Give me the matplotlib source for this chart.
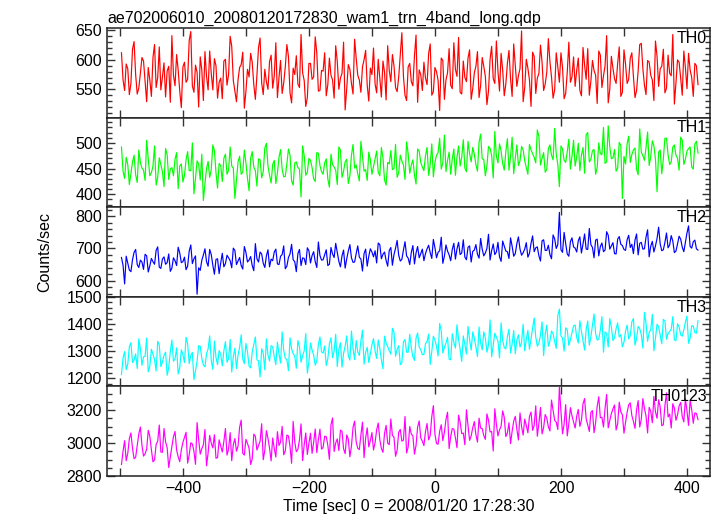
import numpy as np
import matplotlib
matplotlib.use("Agg")
import matplotlib.pyplot as plt
from matplotlib.ticker import MultipleLocator

plt.rcParams['font.family'] = ['Liberation Sans', 'DejaVu Sans']

# light curve: bins at -498 + 5*i, plus the half-way bins at -495.5 + 5*i
t_start = -498
t_bin = 5

th0 = [612, 548, 585, 560, 631, 542, 577, 598, 529, 566, 604, 553, 622, 571, 537, 589,
       641, 556, 583, 519, 596, 567, 648, 545, 579, 605, 531, 572, 615, 549, 590, 562,
       534, 601, 575, 623, 547, 566, 592, 518, 584, 611, 558, 574, 637, 541, 563, 597,
       552, 629, 570, 543, 588, 606, 527, 575, 559, 643, 565, 536, 594, 571, 612, 548,
       581, 539, 603, 566, 624, 550, 577, 515, 592, 560, 635, 574, 545, 600, 557, 586,
       620, 544, 569, 598, 532, 582, 609, 553, 571, 646, 540, 588, 563, 607, 528, 575,
       596, 558, 627, 546, 580, 514, 599, 566, 619, 551, 584, 638, 542, 570, 603, 533,
       578, 614, 556, 589, 524, 601, 568, 632, 547, 583, 559, 616, 538, 592, 573, 649,
       553, 586, 521, 606, 569, 625, 548, 579, 597, 535, 612, 562, 587, 543, 630, 571,
       555, 603, 539, 591, 619, 564, 582, 526, 608, 573, 641, 550, 586, 560, 622, 545,
       593, 567, 612, 536, 581, 628, 557, 599, 574, 531, 606, 585, 618, 552, 577, 643,
       561, 596, 540, 587, 611, 570, 594, 558]
th0_mid = [566, 593, 541, 618, 575, 552, 604, 563, 587, 538, 626, 570, 549, 595, 581, 528,
           574, 609, 547, 588, 562, 633, 556, 591, 520, 583, 614, 549, 577, 602, 535, 569,
           598, 557, 640, 565, 529, 587, 613, 546, 571, 596, 533, 621, 561, 584, 550, 608,
           573, 536, 599, 561, 626, 544, 586, 607, 553, 578, 521, 594, 567, 639, 547, 582,
           612, 558, 574, 535, 597, 569, 630, 551, 584, 542, 603, 566, 588, 616, 530, 575,
           559, 601, 537, 579, 624, 563, 590, 546, 608, 572, 531, 594, 556, 642, 583, 548,
           569, 611, 540, 587, 565, 603, 533, 578, 557, 629, 572, 545, 598, 563, 617, 551,
           589, 536, 604, 572, 547, 623, 560, 581, 611, 539, 594, 568, 627, 555, 585, 529,
           601, 566, 613, 543, 577, 596, 559, 636, 571, 549, 588, 612, 534, 579, 562, 605,
           582, 548, 621, 567, 540, 599, 574, 615, 553, 590, 527, 606, 568, 594, 538, 617,
           560, 603, 572, 548, 626, 585, 541, 596, 566, 632, 555, 589, 544, 608, 573, 525,
           600, 569, 615, 551, 583, 538, 590]

th1 = [492, 431, 458, 440, 476, 423, 462, 447, 505, 436, 455, 418, 471, 444, 489, 429,
       452, 468, 411, 459, 437, 483, 446, 401, 465, 428, 388, 450, 433, 496, 442, 460,
       425, 478, 447, 455, 392, 463, 439, 486, 431, 470, 453, 416, 467, 444, 499, 437,
       458, 421, 472, 449, 435, 488, 426, 461, 452, 395, 475, 443, 466, 430, 481, 456,
       439, 469, 414, 458, 447, 492, 433, 463, 421, 476, 451, 440, 503, 445, 427, 467,
       454, 484, 436, 471, 418, 459, 448, 497, 442, 465, 429, 479, 457, 438, 488, 462,
       446, 491, 458, 434, 476, 509, 461, 444, 482, 469, 437, 494, 472, 451, 503, 463,
       478, 445, 517, 468, 455, 489, 432, 474, 498, 460, 483, 447, 511, 470, 456, 493,
       465, 439, 486, 472, 525, 457, 481, 449, 496, 467, 478, 415, 488, 462, 507, 474,
       455, 499, 476, 441, 520, 468, 487, 452, 479, 530, 463, 492, 471, 445, 501, 392,
       459, 513, 477, 490, 438, 482, 466, 521, 473, 494, 405, 486, 469, 509, 458, 492,
       476, 447, 505, 468, 489, 453, 498, 480]
th1_mid = [445, 472, 419, 463, 438, 486, 451, 427, 469, 442, 494, 433, 458, 415, 477, 449,
           436, 481, 455, 424, 467, 446, 500, 431, 459, 478, 421, 464, 448, 485, 412, 456,
           470, 439, 492, 451, 428, 474, 443, 461, 407, 483, 446, 469, 432, 490, 455, 422,
           466, 441, 487, 434, 459, 476, 418, 463, 449, 494, 437, 470, 452, 425, 480, 444,
           461, 430, 478, 453, 419, 486, 445, 468, 436, 497, 457, 426, 473, 448, 482, 439,
           470, 443, 491, 428, 462, 485, 450, 433, 476, 457, 502, 441, 467, 420, 484, 453,
           475, 437, 498, 462, 481, 449, 515, 466, 439, 488, 472, 455, 506, 444, 479, 491,
           458, 501, 469, 436, 493, 476, 522, 461, 484, 447, 508, 473, 440, 496, 465, 486,
           452, 497, 479, 461, 512, 470, 443, 489, 476, 528, 458, 494, 466, 483, 449, 505,
           472, 446, 491, 516, 463, 485, 439, 500, 477, 460, 533, 469, 487, 451, 495, 474,
           498, 462, 486, 449, 527, 475, 491, 456, 504, 468, 482, 440, 509, 477, 463, 496,
           470, 511, 458, 484, 492, 449, 503]

th2 = [672, 590, 655, 628, 688, 650, 664, 635, 677, 646, 659, 694, 642, 667, 651, 683,
       639, 662, 704, 656, 673, 645, 711, 668, 558, 632, 680, 659, 697, 648, 666, 622,
       685, 653, 671, 640, 694, 661, 647, 706, 658, 675, 631, 668, 689, 654, 677, 643,
       662, 698, 650, 681, 637, 672, 713, 659, 684, 647, 669, 702, 655, 690, 641, 678,
       665, 696, 651, 683, 716, 660, 677, 639, 692, 671, 658, 708, 667, 684, 645, 699,
       674, 655, 712, 682, 663, 694, 648, 701, 679, 666, 721, 670, 688, 652, 706, 684,
       662, 699, 687, 728, 671, 693, 654, 711, 680, 697, 667, 719, 686, 673, 704, 658,
       695, 682, 731, 677, 700, 664, 714, 689, 674, 723, 692, 669, 707, 684, 736, 679,
       698, 673, 716, 690, 705, 661, 727, 694, 681, 742, 700, 812, 688, 715, 676, 733,
       701, 724, 686, 745, 697, 712, 671, 729, 706, 690, 752, 698, 718, 683, 737, 709,
       694, 741, 713, 726, 680, 719, 699, 758, 707, 689, 731, 714, 696, 748, 711, 723,
       692, 738, 704, 719, 770, 701, 726, 695]
th2_mid = [648, 676, 633, 665, 697, 641, 658, 682, 627, 669, 651, 705, 638, 674, 656, 629,
           671, 647, 686, 659, 634, 692, 653, 677, 640, 663, 699, 645, 681, 620, 668, 655,
           643, 679, 662, 701, 650, 672, 636, 688, 664, 647, 715, 658, 683, 641, 696, 667,
           689, 652, 676, 708, 645, 683, 665, 628, 697, 671, 650, 693, 678, 659, 720, 664,
           681, 647, 703, 672, 688, 643, 695, 668, 712, 657, 684, 673, 630, 698, 676, 689,
           693, 717, 668, 689, 645, 703, 681, 725, 661, 695, 677, 650, 709, 686, 671, 698,
           684, 710, 669, 702, 688, 735, 676, 692, 662, 716, 699, 681, 727, 665, 708, 691,
           712, 670, 698, 686, 744, 693, 681, 719, 660, 707, 690, 733, 676, 715, 698, 687,
           718, 685, 739, 702, 677, 724, 694, 710, 668, 730, 712, 696, 750, 683, 721, 705,
           689, 736, 714, 698, 762, 703, 726, 677, 717, 695, 741, 708, 684, 729, 713, 697,
           727, 703, 684, 745, 716, 698, 735, 674, 722, 708, 766, 693, 719, 702, 740, 687,
           714, 729, 690, 748, 706, 721, 699]

th3 = [1214, 1298, 1252, 1331, 1267, 1236, 1309, 1279, 1348, 1245, 1288, 1227, 1322, 1260, 1296, 1239,
       1341, 1271, 1216, 1305, 1258, 1327, 1284, 1195, 1262, 1318, 1249, 1291, 1356, 1233, 1277, 1302,
       1246, 1335, 1272, 1223, 1311, 1285, 1360, 1254, 1297, 1238, 1324, 1268, 1205, 1292, 1345, 1263,
       1316, 1250, 1289, 1371, 1274, 1228, 1308, 1282, 1339, 1259, 1301, 1219, 1330, 1286, 1264, 1352,
       1293, 1247, 1327, 1276, 1362, 1306, 1241, 1318, 1283, 1374, 1269, 1297, 1338, 1252, 1314, 1290,
       1346, 1273, 1310, 1235, 1329, 1301, 1384, 1281, 1320, 1257, 1343, 1296, 1312, 1266, 1367, 1305,
       1288, 1336, 1251, 1355, 1318, 1402, 1293, 1329, 1270, 1364, 1311, 1343, 1262, 1325, 1391, 1304,
       1347, 1280, 1330, 1371, 1296, 1415, 1322, 1352, 1275, 1339, 1308, 1381, 1326, 1290, 1360, 1333,
       1301, 1377, 1344, 1422, 1318, 1359, 1283, 1396, 1337, 1364, 1310, 1455, 1348, 1386, 1321, 1368,
       1396, 1330, 1372, 1304, 1411, 1353, 1437, 1341, 1378, 1296, 1365, 1420, 1339, 1383, 1352, 1316,
       1374, 1345, 1408, 1322, 1391, 1361, 1443, 1336, 1379, 1301, 1399, 1358, 1417, 1344, 1372, 1427,
       1338, 1389, 1355, 1407, 1329, 1394, 1368, 1412]
th3_mid = [1275, 1232, 1316, 1258, 1290, 1345, 1248, 1281, 1224, 1307, 1269, 1336, 1243, 1285, 1211, 1299,
           1263, 1312, 1239, 1287, 1351, 1254, 1295, 1228, 1320, 1273, 1242, 1308, 1266, 1337, 1250, 1289,
           1301, 1259, 1343, 1280, 1236, 1314, 1271, 1328, 1245, 1296, 1352, 1264, 1309, 1231, 1286, 1320,
           1278, 1333, 1256, 1302, 1268, 1349, 1291, 1237, 1316, 1283, 1365, 1261, 1304, 1248, 1325, 1297,
           1319, 1272, 1349, 1300, 1243, 1331, 1292, 1356, 1267, 1310, 1339, 1284, 1377, 1295, 1258, 1323,
           1300, 1341, 1268, 1355, 1317, 1289, 1370, 1307, 1250, 1334, 1296, 1362, 1279, 1348, 1315, 1287,
           1327, 1363, 1299, 1340, 1282, 1374, 1314, 1351, 1268, 1332, 1397, 1306, 1356, 1289, 1342, 1371,
           1316, 1389, 1305, 1348, 1323, 1279, 1366, 1337, 1404, 1313, 1354, 1293, 1376, 1341, 1315, 1399,
           1344, 1307, 1385, 1352, 1329, 1408, 1363, 1318, 1374, 1335, 1431, 1356, 1300, 1379, 1342, 1393,
           1351, 1412, 1337, 1380, 1322, 1396, 1365, 1344, 1427, 1371, 1315, 1388, 1349, 1404, 1361, 1333,
           1396, 1357, 1420, 1346, 1383, 1311, 1402, 1369, 1435, 1348, 1390, 1327, 1411, 1365, 1381, 1342,
           1401, 1360, 1378, 1429, 1347, 1392, 1366]

th0123 = [2870, 3015, 2938, 3062, 2905, 2987, 3098, 2921, 2964, 3041, 2886, 2992, 3110, 2944, 3008, 2852,
          2979, 3071, 2917, 2960, 3034, 2878, 3002, 2951, 3125, 2933, 2990, 2862, 3047, 2971, 2908, 3020,
          2946, 3089, 2965, 2893, 3028, 2982, 3140, 2927, 2998, 2870, 3055, 2958, 3012, 2899, 3076, 2969,
          3031, 2915, 2986, 3102, 2953, 3044, 2877, 3008, 2962, 3117, 2990, 2931, 3060, 3005, 2942, 3085,
          2974, 3039, 2901, 3153, 3001, 2955, 3072, 2936, 3025, 2981, 3134, 2968, 3049, 2912, 3093, 3016,
          2958, 3081, 3022, 2944, 3108, 2991, 3047, 2920, 3066, 3012, 3162, 2976, 3055, 2933, 3098, 3031,
          2985, 3119, 3047, 3228, 2998, 3073, 3015, 3144, 2967, 3089, 3032, 3170, 3058, 2990, 3106, 3044,
          3131, 3006, 3092, 3046, 3178, 3068, 2952, 3115, 3081, 3196, 3040, 3124, 3072, 3163, 3019, 3101,
          3146, 3063, 3189, 3108, 3042, 3217, 3095, 3152, 3074, 3200, 3128, 3340, 3057, 3234, 3119, 3166,
          3092, 3205, 3140, 3271, 3111, 3187, 3063, 3224, 3155, 3098, 3296, 3138, 3208, 3080, 3249, 3172,
          3126, 3233, 3168, 3090, 3259, 3145, 3211, 3062, 3193, 3284, 3151, 3219, 3112, 3306, 3177, 3240,
          3139, 3226, 3161, 3270, 3108, 3203, 3184, 3143]
th0123_mid = [2951, 2893, 3027, 2969, 2914, 3056, 2987, 2935, 3078, 2960, 2898, 3012, 2946, 3089, 2973, 2917,
              3039, 2958, 2887, 3004, 3066, 2929, 2995, 2871, 3021, 2966, 3083, 2940, 2999, 3051, 2912, 2983,
              3010, 2927, 3064, 2990, 2951, 3097, 2938, 3023, 2969, 2904, 3041, 2985, 3118, 2956, 3030, 2892,
              2967, 3070, 3006, 2929, 3049, 2980, 3132, 2948, 3019, 2894, 3062, 2999, 2938, 3086, 3021, 2963,
              3042, 2987, 3111, 2949, 3026, 3079, 2965, 3050, 2917, 3096, 3008, 2961, 3128, 3030, 2977, 3064,
              3003, 3122, 2968, 3059, 2999, 3147, 3036, 2957, 3083, 3018, 2940, 3101, 3044, 2986, 3135, 3012,
              3071, 3020, 3162, 3053, 2993, 3112, 3066, 3188, 3039, 3085, 2972, 3127, 3061, 3203, 3017, 3094,
              3052, 3152, 3088, 3023, 3139, 3071, 3209, 3044, 3103, 3157, 3062, 2997, 3133, 3085, 3184, 3049,
              3107, 3162, 3078, 3227, 3121, 3056, 3174, 3099, 3262, 3138, 3083, 3193, 3115, 3044, 3216, 3130,
              3163, 3102, 3239, 3147, 3071, 3198, 3124, 3282, 3156, 3213, 3093, 3179, 3232, 3117, 3190, 3060,
              3187, 3245, 3132, 3203, 3098, 3271, 3165, 3218, 3124, 3190, 3264, 3106, 3228, 3159, 3092, 3213,
              3172, 3247, 3129, 3195, 3262, 3121, 3180]

names = ['TH0', 'TH1', 'TH2', 'TH3', 'TH0123']
series = [(th0, th0_mid), (th1, th1_mid), (th2, th2_mid), (th3, th3_mid), (th0123, th0123_mid)]
colors = ['#ff0000', '#00ff00', '#0000ff', '#00ffff', '#ff00ff']
ylims = [(502, 654), (375, 549), (550, 828), (1170, 1500), (2800, 3345)]
ymajor = [50, 50, 100, 100, 200]
yminor = [10, 10, 20, 20, 50]

fig = plt.figure(figsize=(7.17, 5.16), dpi=100)
gs = fig.add_gridspec(5, 1, left=0.1492, right=0.9902, bottom=0.0775, top=0.9457, hspace=0)

axes = []
for i in range(5):
    ax = fig.add_subplot(gs[i, 0], sharex=axes[0] if axes else None)
    axes.append(ax)
    main, mid = series[i]
    # interleave the two sets of bins
    vals = np.empty(len(main) + len(mid))
    vals[0::2] = main
    vals[1::2] = mid
    t = t_start + t_bin / 2 * np.arange(len(vals))
    ax.plot(t, vals, color=colors[i], lw=0.85)
    ax.set_ylim(*ylims[i])
    ax.yaxis.set_major_locator(MultipleLocator(ymajor[i]))
    ax.yaxis.set_minor_locator(MultipleLocator(yminor[i]))
    ax.xaxis.set_major_locator(MultipleLocator(200))
    ax.xaxis.set_minor_locator(MultipleLocator(100))
    ax.tick_params(which='both', direction='in', top=True, right=True,
                   labelsize=11.5, color='#333333', width=1)
    ax.tick_params(which='major', length=6)
    ax.tick_params(axis='y', which='minor', length=3.5)
    ax.tick_params(axis='x', which='minor', length=6)
    for s in ax.spines.values():
        s.set_linewidth(1.1)
        s.set_color('#222222')
    ax.text(0.995, 0.97, names[i], transform=ax.transAxes, ha='right', va='top',
            fontsize=11.5)
    if i < 4:
        ax.tick_params(labelbottom=False)

axes[0].set_xlim(-521, 436)
axes[0].set_title('ae702006010_20080120172830_wam1_trn_4band_long.qdp',
                  loc='left', fontsize=11.5, pad=4)
axes[-1].set_xlabel('Time [sec] 0 = 2008/01/20 17:28:30', fontsize=11.5, labelpad=2)
fig.text(0.063, 0.512, 'Counts/sec', rotation=90, ha='center', va='center', fontsize=11.5)

fig.savefig('out.png', dpi=100)
